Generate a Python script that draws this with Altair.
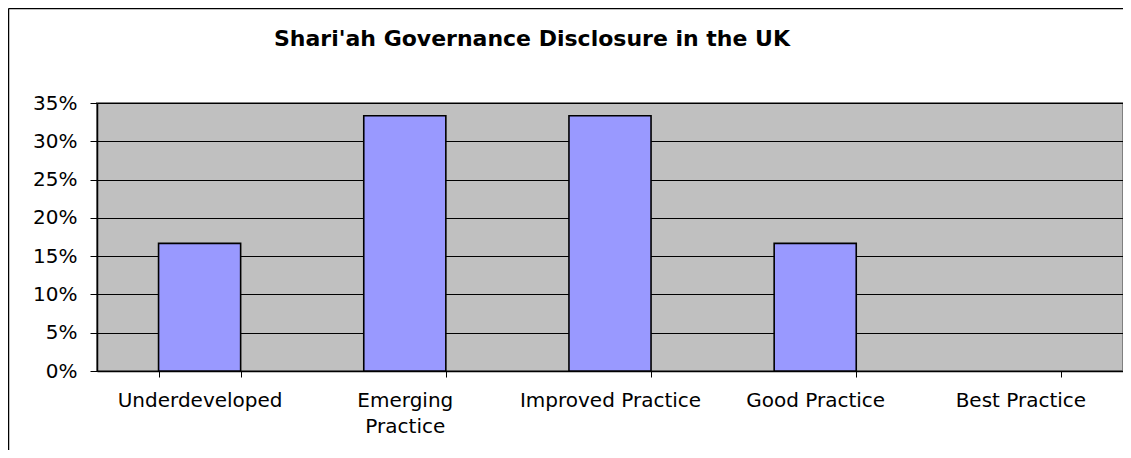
import altair as alt
import pandas as pd

categories = ["Underdeveloped", "Emerging Practice", "Improved Practice", "Good Practice", "Best Practice"]
shares = [0.1667, 0.3333, 0.3333, 0.1667, 0.0]
y_ticks = [0, 0.05, 0.10, 0.15, 0.20, 0.25, 0.30, 0.35]

df = pd.DataFrame({"category": categories, "share": shares})
FONT = "DejaVu Sans"

bars = alt.Chart(df).mark_bar(
    fill="#9999FF", stroke="black", strokeWidth=1.6
).encode(
    x=alt.X(
        "category:N",
        sort=categories,
        scale=alt.Scale(paddingInner=0.6, paddingOuter=0.3),
        axis=alt.Axis(
            title=None,
            labelAngle=0,
            tickBand="extent",
            tickSize=6,
            tickColor="black",
            domainColor="black",
            domainWidth=1.5,
            labelColor="black",
            labelFontSize=20,
            labelFont=FONT,
            labelPadding=13.5,
            labelLineHeight=26,
            labelLimit=400,
            labelOverlap=False,
            labelExpr="datum.value == 'Emerging Practice' ? ['Emerging', 'Practice'] : datum.value",
            grid=False,
        ),
    ),
    y=alt.Y(
        "share:Q",
        scale=alt.Scale(domain=[0, 0.35], nice=False),
        axis=alt.Axis(
            title=None,
            values=y_ticks,
            format=".0%",
            grid=True,
            gridColor="black",
            gridWidth=1,
            gridOpacity=1,
            tickSize=7,
            tickColor="black",
            domainColor="black",
            domainWidth=1.5,
            labelColor="black",
            labelFontSize=20,
            labelFont=FONT,
            labelPadding=13,
        ),
    ),
    strokeOpacity=alt.condition("datum.share > 0", alt.value(1), alt.value(0)),
)

frame_df = pd.DataFrame({"k": [0]})
left_line = alt.Chart(frame_df).mark_rule(color="black", strokeWidth=1.5).encode(
    x=alt.value(-88.5), y=alt.value(-94.5), y2=alt.value(400)
)
top_line = alt.Chart(frame_df).mark_rule(color="black", strokeWidth=1.5).encode(
    x=alt.value(-88.5), x2=alt.value(1040), y=alt.value(-94.5)
)

chart = alt.layer(bars, left_line, top_line).properties(
    width=1026,
    height=268,
    background="white",
    title=alt.TitleParams(
        "Shari'ah Governance Disclosure in the UK",
        fontSize=22,
        font=FONT,
        fontWeight="bold",
        color="black",
        anchor="middle",
        baseline="alphabetic",
        dx=-78,
        offset=-60,
    ),
    autosize=alt.AutoSizeParams(type="none"),
    padding={"left": 89, "top": 95, "right": 0, "bottom": 79},
).configure_view(
    fill="#C0C0C0", stroke="#808080", strokeWidth=2
)

chart.save("out.html", embed_options={"renderer": "svg", "actions": False})
